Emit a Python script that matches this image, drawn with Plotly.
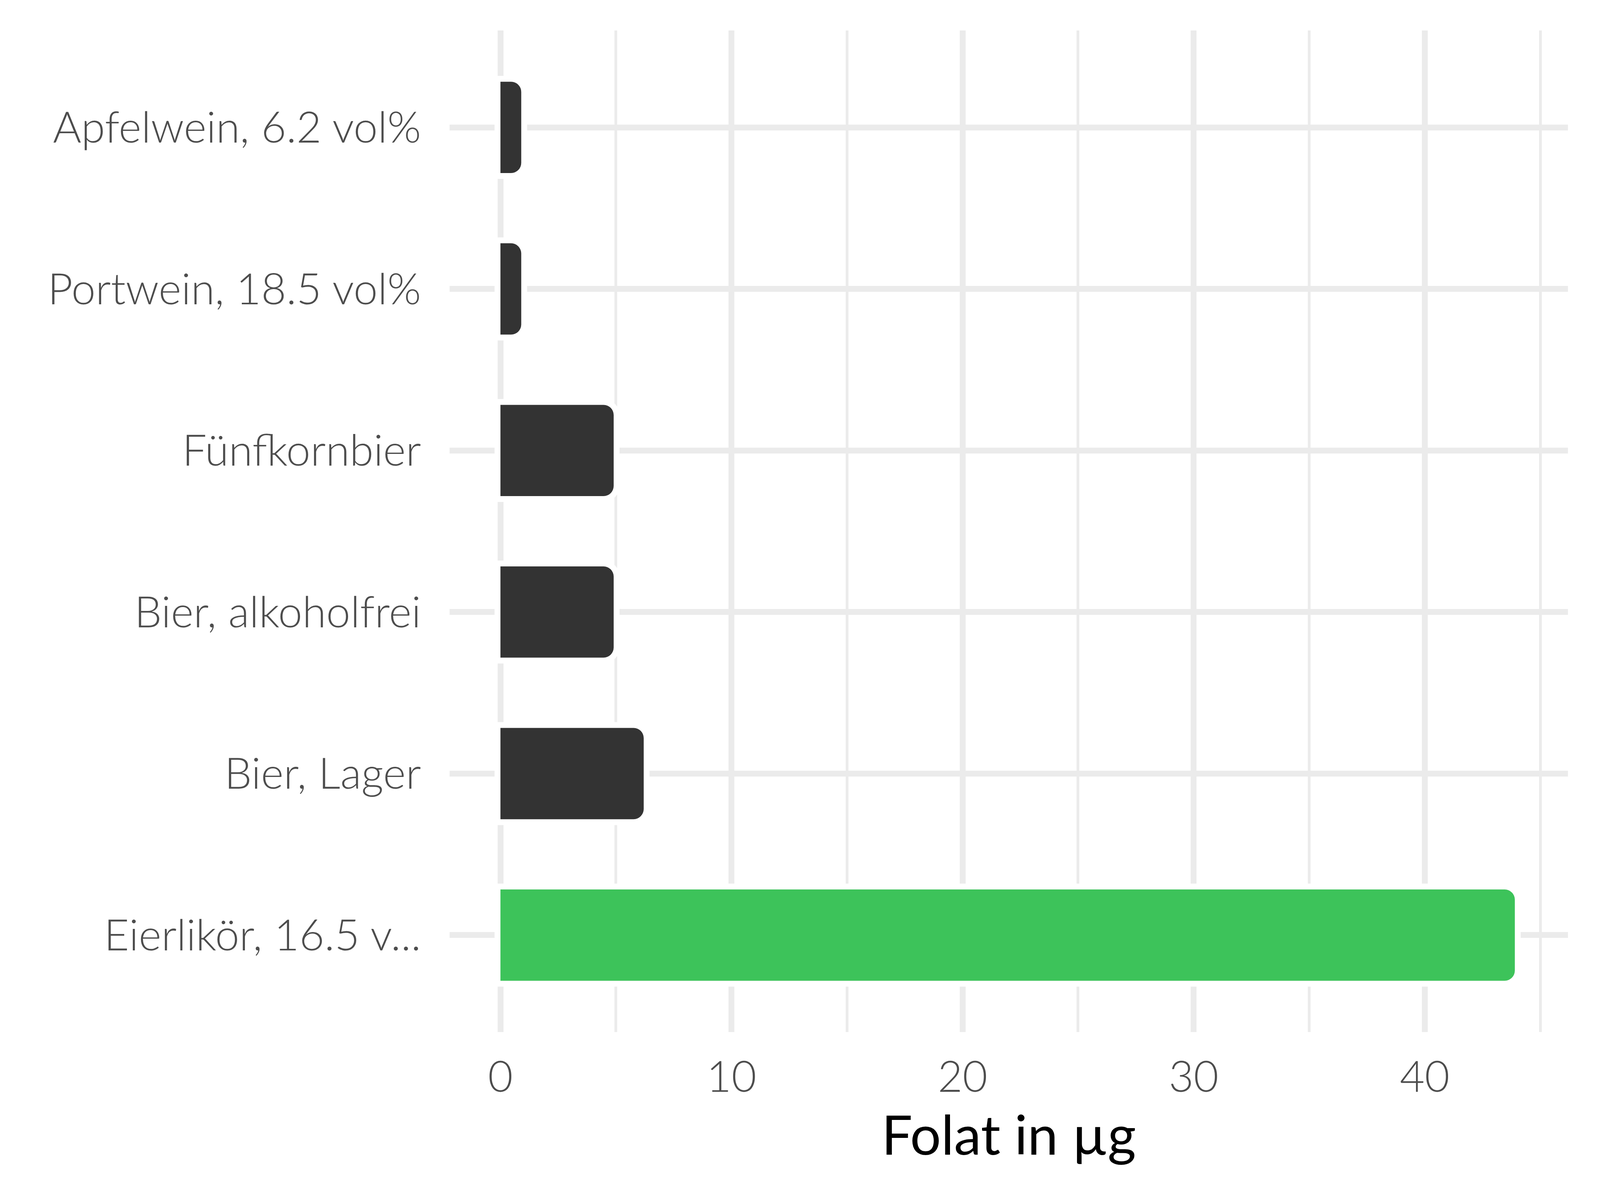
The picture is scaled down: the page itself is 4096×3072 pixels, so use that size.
import plotly.graph_objects as go

categories = ["Apfelwein, 6.2 vol%", "Portwein, 18.5 vol%", "Fünfkornbier",
              "Bier, alkoholfrei", "Bier, Lager", "Eierlikör, 16.5 v..."]
values = [0.9, 0.9, 4.9, 4.9, 6.2, 43.9]
bar_colors = ["#333333", "#333333", "#333333", "#333333", "#333333", "#3DC35A"]
x_ticks = [0, 10, 20, 30, 40]
x_title = "Folat in µg"

FONT = "Lato, 'Open Sans', sans-serif"
GRID = "#EBEBEB"

fig = go.Figure()
# white halo behind bars (interrupts grid lines like the reference)
fig.add_trace(go.Bar(
    y=categories, x=values, orientation="h", width=0.565,
    marker=dict(color="white", line=dict(color="white", width=30), cornerradius=26),
    hoverinfo="skip", showlegend=False,
))
fig.add_trace(go.Bar(
    y=categories, x=values, orientation="h", width=0.565,
    marker=dict(color=bar_colors, line=dict(width=0), cornerradius=26),
    showlegend=False,
))

fig.update_layout(
    width=4096, height=3072,
    margin=dict(l=1151, r=82, t=78, b=430),
    paper_bgcolor="white", plot_bgcolor="white",
    barmode="overlay",
    font=dict(family=FONT, color="#4D4D4D", size=111, weight=300),
)
fig.update_xaxes(
    range=[-2.2, 46.2],
    tickmode="array", tickvals=x_ticks, ticktext=[str(v) for v in x_ticks],
    showgrid=True, gridcolor=GRID, gridwidth=14.5,
    minor=dict(tickmode="array", tickvals=[5, 15, 25, 35, 45], showgrid=True,
               gridcolor=GRID, gridwidth=6.5, ticks=""),
    zeroline=False, showline=False, ticks="",
    tickfont=dict(family=FONT, size=110, color="#4D4D4D", weight=300),
    ticklabelstandoff=42,
    title=dict(text=x_title, font=dict(family=FONT, size=140, color="black", weight=400),
               standoff=28),
)
fig.update_yaxes(
    range=[5.6, -0.6], type="category",
    categoryorder="array", categoryarray=categories,
    showgrid=True, gridcolor=GRID, gridwidth=14.5,
    zeroline=False, showline=False, ticks="",
    tickfont=dict(family=FONT, size=111, color="#4D4D4D", weight=300),
    ticklabelstandoff=72,
)

fig.write_html("out.html", config={"displayModeBar": False},
               post_script="document.body.style.margin='0';")
